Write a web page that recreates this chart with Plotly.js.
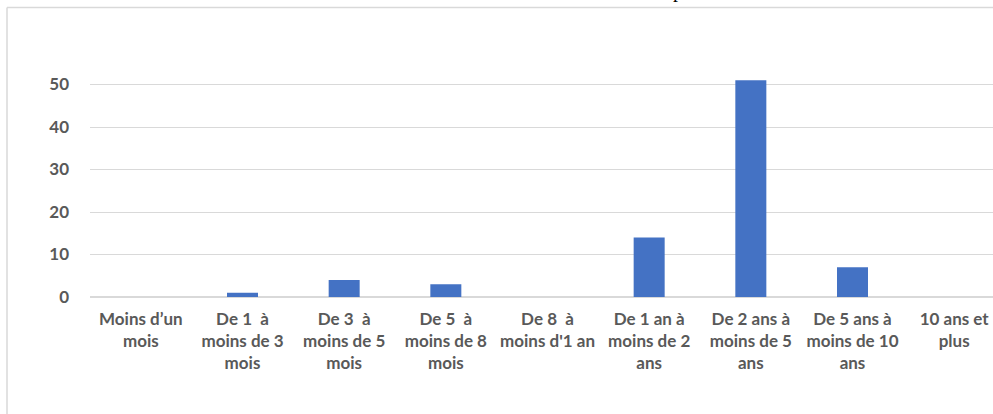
<!DOCTYPE html>
<html>
<head>
<meta charset="utf-8">
<script src="https://cdn.plot.ly/plotly-3.0.1.min.js"></script>
<style>
html, body { margin: 0; padding: 0; overflow: hidden; background: #ffffff; }
#chart { position: absolute; left: 0; top: 0; }
</style>
</head>
<body>
<div id="chart"></div>
<script>
// ---- data ----
const categories = [
  "Moins d’un<br>mois",
  "De 1  à<br>moins de 3<br>mois",
  "De 3  à<br>moins de 5<br>mois",
  "De 5  à<br>moins de 8<br>mois",
  "De 8  à<br>moins d'1 an",
  "De 1 an à<br>moins de 2<br>ans",
  "De 2 ans à<br>moins de 5<br>ans",
  "De 5 ans à<br>moins de 10<br>ans",
  "10 ans et<br>plus"
];
const values = [0, 1, 4, 3, 0, 14, 51, 7, 0];
const yTickVals = [0, 10, 20, 30, 40, 50];
const clippedTitle = "p";

// ---- layout geometry ----
const W = 1100, H = 500;
const M = { l: 90, r: 95, t: 42, b: 203 };
const plotW = W - M.l - M.r, plotH = H - M.t - M.b;
const pxX = px => (px - M.l) / plotW;
const pxY = py => (H - M.b - py) / plotH;

const frameColor = "#d9d9d9";
const labelFont = { family: "Lato, 'Open Sans', sans-serif", size: 17, color: "#595959", weight: 700 };

const trace = {
  type: "bar",
  x: categories,
  y: values,
  marker: { color: "#4472C4", line: { width: 0 } },
  hoverinfo: "skip"
};

const layout = {
  width: W, height: H,
  margin: M,
  paper_bgcolor: "#ffffff",
  plot_bgcolor: "#ffffff",
  showlegend: false,
  bargap: 0.695,
  xaxis: {
    type: "category",
    showgrid: false,
    zeroline: false,
    showline: false,
    ticks: "",
    tickfont: labelFont,
    tickangle: 0,
    ticklabelstandoff: 10,
    automargin: false
  },
  yaxis: {
    range: [0, 60],
    tickvals: yTickVals,
    showgrid: true,
    gridcolor: frameColor,
    gridwidth: 1,
    zeroline: true,
    zerolinecolor: frameColor,
    zerolinewidth: 1.5,
    showline: false,
    ticks: "",
    tickfont: labelFont,
    ticklabelstandoff: 20,
    automargin: false
  },
  shapes: [
    { type: "line", xref: "paper", yref: "paper", x0: pxX(7), x1: pxX(W), y0: pxY(7.5), y1: pxY(7.5), line: { color: frameColor, width: 1.5 } },
    { type: "line", xref: "paper", yref: "paper", x0: pxX(7), x1: pxX(7), y0: pxY(7.5), y1: pxY(H), line: { color: frameColor, width: 1.5 } }
  ],
  annotations: [
    { text: clippedTitle, xref: "paper", yref: "paper", x: pxX(678), y: pxY(4), xanchor: "center", yanchor: "bottom",
      showarrow: false, font: { family: "'Liberation Serif', 'Times New Roman', serif", size: 20, color: "#000000" } }
  ]
};

Plotly.newPlot("chart", [trace], layout, { displayModeBar: false, staticPlot: true });
</script>
</body>
</html>
